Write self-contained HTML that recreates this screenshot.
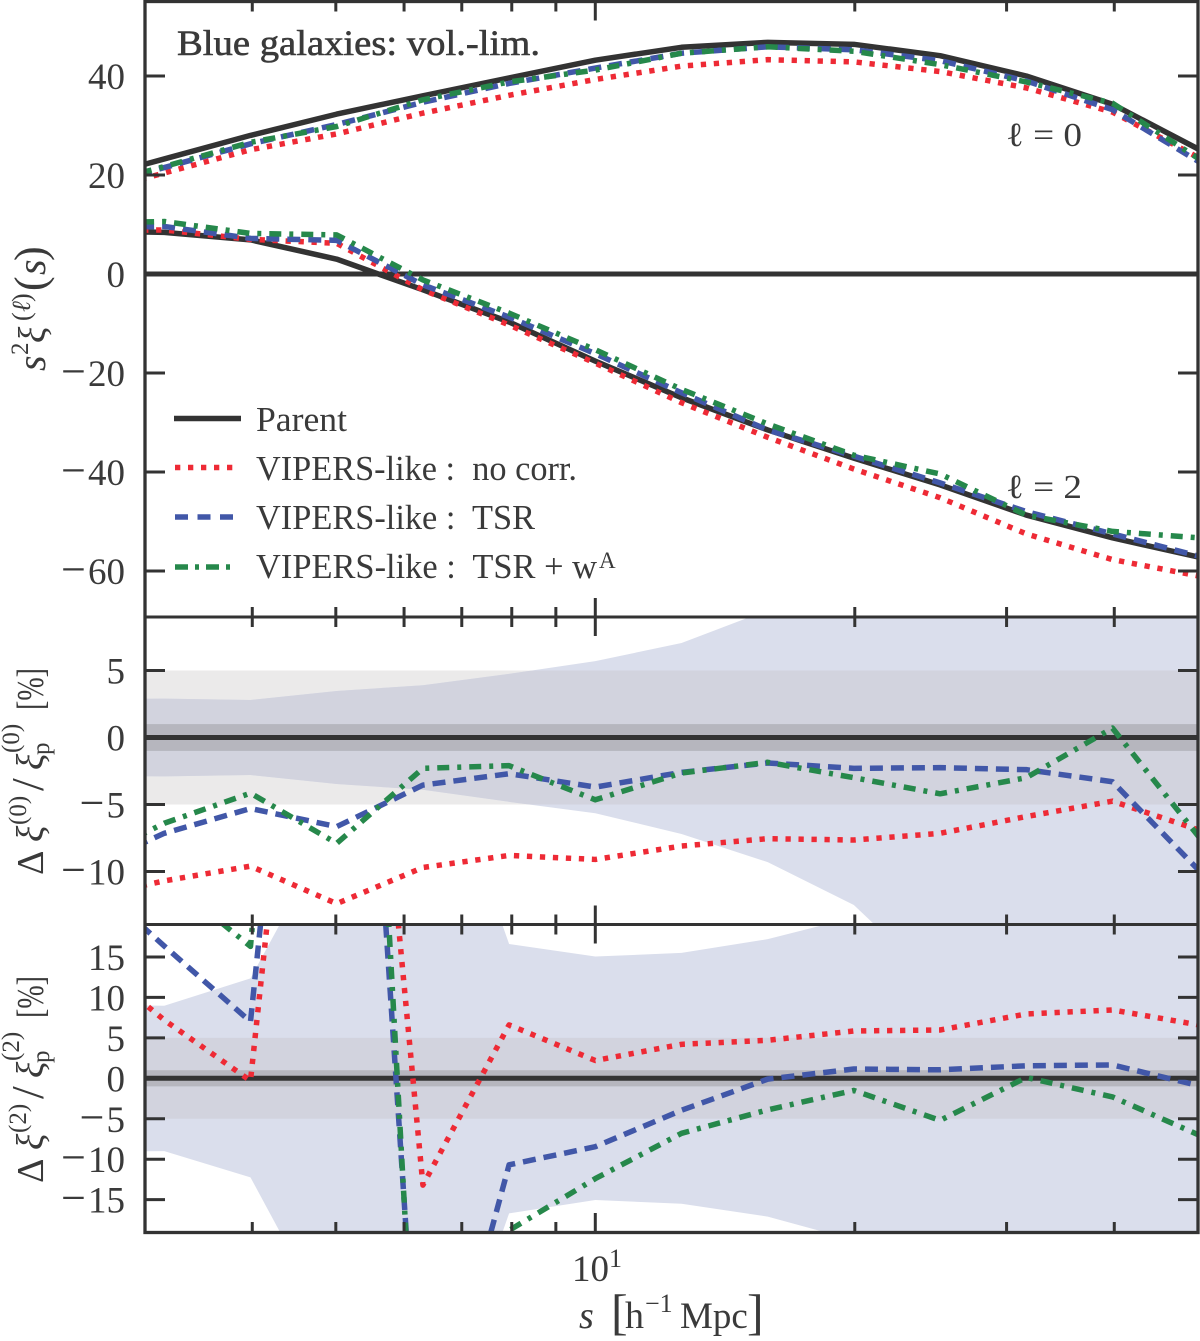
<!DOCTYPE html>
<html><head><meta charset="utf-8"><title>Blue galaxies</title>
<style>
html,body{margin:0;padding:0;background:#fff;width:1200px;height:1341px;overflow:hidden}
svg{display:block;overflow:hidden}
text{font-family:"Liberation Serif",serif;fill:#3a3a3a}
</style></head>
<body>
<svg id="fig" xmlns="http://www.w3.org/2000/svg" width="1200" height="1341" viewBox="0 0 1200 1341">
<defs id="defs">
<clipPath id="c1"><rect x="145" y="1.5" width="1053" height="615.5"/></clipPath>
<clipPath id="c2"><rect x="145" y="617" width="1053" height="307.5"/></clipPath>
<clipPath id="c3"><rect x="145" y="924.5" width="1053" height="308"/></clipPath>
</defs>
<g id="bands"></g>
<g id="marks"></g>
<g id="axes"></g>

<text x="177" y="55" font-size="36" textLength="363" lengthAdjust="spacingAndGlyphs" stroke="#3a3a3a" stroke-width="0.6">Blue galaxies: vol.-lim.</text>
<text x="1006" y="146" font-size="34" textLength="76" lengthAdjust="spacingAndGlyphs">ℓ = 0</text>
<text x="1006" y="498" font-size="34" textLength="76" lengthAdjust="spacingAndGlyphs">ℓ = 2</text>

<g>
<line x1="174" x2="241" y1="418.5" y2="418.5" stroke="#333" stroke-width="5.5"/>
<text x="256" y="431" font-size="35" textLength="91" lengthAdjust="spacingAndGlyphs">Parent</text>
<line x1="175" x2="234" y1="467.5" y2="467.5" stroke="#ee2a35" stroke-width="5.5" stroke-dasharray="5.3 7.7"/>
<text x="256" y="480" font-size="35" textLength="321" lengthAdjust="spacingAndGlyphs" xml:space="preserve">VIPERS-like :  no corr.</text>
<line x1="175" x2="233" y1="517" y2="517" stroke="#4157a8" stroke-width="5.5" stroke-dasharray="13 9.5"/>
<text x="256" y="529" font-size="35" textLength="279" lengthAdjust="spacingAndGlyphs" xml:space="preserve">VIPERS-like :  TSR</text>
<line x1="175" x2="234" y1="567" y2="567" stroke="#26884b" stroke-width="5.5" stroke-dasharray="13 7 4 7"/>
<text x="256" y="578" font-size="35" textLength="341" lengthAdjust="spacingAndGlyphs" xml:space="preserve">VIPERS-like :  TSR + w</text>
<text x="599" y="568" font-size="23">A</text>
</g>

<g transform="translate(0,372) rotate(-90)">
<text font-size="40"><tspan x="1" y="45" font-style="italic">s</tspan><tspan x="17" y="28" font-size="25">2</tspan><tspan x="29" y="45" font-style="italic" font-size="38">ξ</tspan><tspan x="51" y="30" font-size="26">(</tspan><tspan x="60" y="30" font-size="26" font-style="italic">ℓ</tspan><tspan x="70" y="30" font-size="26">)</tspan><tspan x="81" y="45" font-size="44">(</tspan><tspan x="97" y="45" font-style="italic">s</tspan><tspan x="111" y="45" font-size="44">)</tspan></text>
</g>
<g transform="translate(0,875) rotate(-90)">
<text font-size="38"><tspan x="0" y="43">Δ</tspan><tspan x="33" y="43" font-style="italic">ξ</tspan><tspan x="50" y="26" font-size="25">(0)</tspan><tspan x="84" y="43" font-size="46">/</tspan><tspan x="105" y="43" font-style="italic">ξ</tspan><tspan x="122" y="19" font-size="25">(0)</tspan><tspan x="120" y="49" font-size="25">p</tspan></text>
<text x="165" y="43" font-size="38" textLength="42" lengthAdjust="spacingAndGlyphs">[%]</text>
</g>
<g transform="translate(0,1183) rotate(-90)">
<text font-size="38"><tspan x="0" y="43">Δ</tspan><tspan x="33" y="43" font-style="italic">ξ</tspan><tspan x="50" y="26" font-size="25">(2)</tspan><tspan x="84" y="43" font-size="46">/</tspan><tspan x="105" y="43" font-style="italic">ξ</tspan><tspan x="122" y="19" font-size="25">(2)</tspan><tspan x="120" y="49" font-size="25">p</tspan></text>
<text x="165" y="43" font-size="38" textLength="42" lengthAdjust="spacingAndGlyphs">[%]</text>
</g>

<text x="572" y="1281" font-size="37">10</text>
<text x="609" y="1267" font-size="26">1</text>
<text font-size="38"><tspan x="579" y="1328" font-style="italic">s</tspan><tspan x="611" y="1329" font-size="50">[</tspan><tspan x="625" y="1328">h</tspan><tspan x="645" y="1312" font-size="26">−1</tspan><tspan x="680" y="1328" font-size="37">Mpc</tspan><tspan x="747" y="1329" font-size="50">]</tspan></text>

<script>
// bin centres of the separation s [h^-1 Mpc]
var sBins = [2.512, 3.162, 3.981, 5.012, 6.310, 7.943, 10, 12.59, 15.85, 19.95, 25.12, 31.62, 39.81, 50.12];

// top panel: s^2 xi^(l)
var parentL0 = [18.5, 23.25, 28.0, 32.3, 36.0, 39.6, 43.2, 45.8, 46.8, 46.4, 44.1, 40.0, 34.3, 25.2];
var noCorrL0 = [15.8, 20.4, 25.1, 28.3, 32.5, 36.1, 39.3, 42.0, 43.3, 42.85, 40.9, 37.6, 32.7, 23.5];
var tsrL0 = [16.7, 21.5, 26.3, 30.2, 34.7, 38.5, 41.6, 44.6, 45.9, 45.3, 43.1, 39.0, 33.2, 22.7];
var tsrWaL0 = [17.0, 21.7, 26.6, 29.8, 35.2, 38.8, 41.2, 44.6, 45.9, 45.0, 42.3, 38.8, 34.5, 23.3];
var parentL2 = [8.8, 8.4, 6.9, 3.0, -3.2, -9.7, -17.6, -25, -31.5, -37.2, -42.6, -48.7, -53.3, -57.2];
var noCorrL2 = [8.7, 8.9, 7.0, 6.2, -3.2, -10.3, -18, -26, -33, -39.4, -45.2, -52.5, -57.7, -61];
var tsrL2 = [9.4, 9.6, 7.2, 6.8, -2.2, -8.7, -16.1, -24, -31.5, -36.8, -42.2, -48, -52.5, -57];
var tsrWaL2 = [10.3, 10.6, 8.2, 7.9, -1.2, -7.9, -15.3, -23.3, -30.3, -36.6, -40.4, -48.7, -52, -53.3];

// middle panel: monopole deviation [%]
var noCorrD0 = [-12.1, -10.7, -9.6, -12.4, -9.7, -8.8, -9.1, -8.1, -7.55, -7.65, -7.15, -5.9, -4.75, -6.9];
var tsrD0 = [-10.1, -7.15, -5.3, -6.65, -3.55, -2.7, -3.7, -2.6, -1.9, -2.3, -2.25, -2.4, -3.3, -9.9];
var tsrWaD0 = [-9.6, -6.4, -4.15, -7.9, -2.3, -2.1, -4.65, -2.65, -1.85, -3.0, -4.2, -3.0, 0.7, -7.4];
var bandUpD0 = [2.85, 2.9, 2.8, 3.47, 3.9, 4.75, 5.7, 7.05, 9.5, 12, 14, 16, 18, 20];
var bandLowD0 = [-2.85, -2.9, -2.8, -3.47, -3.9, -4.8, -5.65, -7.2, -9.3, -12.5, -18.6, -25, -30, -35];

// bottom panel: quadrupole deviation [%]
var noCorrD2 = [16, 7.2, -0.3, 100, -13.2, 6.6, 2.2, 4.2, 4.7, 5.85, 5.97, 7.95, 8.45, 6.6];
var tsrD2 = [25.9, 16.35, 7.0, 110, -50, -10.7, -8.45, -3.95, -0.1, 1.15, 1.05, 1.55, 1.65, -0.9];
var tsrWaD2 = [35, 25, 16.3, 135, -57, -18.8, -12.4, -6.8, -3.9, -1.5, -5.2, 0.1, -2.3, -7];
var bandUpD2 = [9.1, 8.97, 12.35, 32, 47, 16.6, 15.05, 15.5, 17.2, 19.9, 25, 30, 35, 40];
var bandLowD2 = [-9.1, -9.0, -12.25, -32, -47, -16.7, -15.05, -15.5, -17.1, -20, -25, -30, -35, -40];

// tick values
var minorXTicks = [4, 5, 6, 7, 8, 9, 20, 30, 40];
var majorXTicks = [10];
var yTicksTop = [40, 20, 0, -20, -40, -60];
var yTicksMiddle = [5, 0, -5, -10];
var yTicksBottom = [15, 10, 5, 0, -5, -10, -15];

var NS = 'http://www.w3.org/2000/svg';
var COLORS = {ink: '#333333', red: '#ee2a35', blue: '#4157a8', green: '#26884b', black: '#333333'};
var DASH = {solid: '', red: '5.3 7.7', blue: '13 8', green: '12 8 4 8'};
var LINE_W = 5.5;

function xScale(s) { return 595.3 + 862 * Math.log10(s / 10); }
function yTop(v) { return 274 - 4.95 * v; }
function yMiddle(v) { return 737.5 - 13.4 * v; }
function yBottom(v) { return 1078.3 - 8.09 * v; }

function shape(parent, tag, attrs) {
  var el = document.createElementNS(NS, tag);
  for (var k in attrs) { el.setAttribute(k, attrs[k]); }
  parent.appendChild(el);
  return el;
}
function pathFrom(values, yFn) {
  return values.map(function (v, i) {
    return (i ? 'L' : 'M') + xScale(sBins[i]).toFixed(2) + ' ' + yFn(v).toFixed(2);
  }).join(' ');
}
function seriesLine(values, yFn, clip, color, dash, width) {
  var g = document.getElementById('marks');
  return shape(g, 'path', {
    d: pathFrom(values, yFn),
    fill: 'none',
    stroke: color,
    'stroke-width': width,
    'stroke-dasharray': dash,
    'stroke-linejoin': 'round',
    'clip-path': 'url(#' + clip + ')'
  });
}
function bandPath(up, low, yFn) {
  var d = pathFrom(up, yFn);
  for (var i = low.length - 1; i >= 0; i--) {
    d += ' L' + xScale(sBins[i]).toFixed(2) + ' ' + yFn(low[i]).toFixed(2);
  }
  return d + ' Z';
}

/* shaded regions */
var bandsG = document.getElementById('bands');
var defsEl = document.getElementById('defs');

var wrapA = shape(bandsG, 'g', {'clip-path': 'url(#c2)'});
var grayA = shape(wrapA, 'rect', {x: 145, width: 1053, y: yMiddle(5), height: yMiddle(-5) - yMiddle(5), fill: '#ebeaea'});


var bandA = shape(wrapA, 'path', {d: bandPath(bandUpD0, bandLowD0, yMiddle), fill: '#dadeec'});


var clipA = shape(defsEl, 'clipPath', {id: 'bandClipA'});
shape(clipA, 'path', {d: bandPath(bandUpD0, bandLowD0, yMiddle)});
var overA = shape(wrapA, 'rect', {x: 145, width: 1053, y: yMiddle(5), height: yMiddle(-5) - yMiddle(5), fill: '#d2d3de', 'clip-path': 'url(#bandClipA)'});


var oneA = shape(wrapA, 'rect', {x: 145, width: 1053, y: yMiddle(1), height: yMiddle(-1) - yMiddle(1), fill: '#b6b6be'});



var wrapB = shape(bandsG, 'g', {'clip-path': 'url(#c3)'});
var grayB = shape(wrapB, 'rect', {x: 145, width: 1053, y: yBottom(5), height: yBottom(-5) - yBottom(5), fill: '#ebeaea'});


var bandB = shape(wrapB, 'path', {d: bandPath(bandUpD2, bandLowD2, yBottom), fill: '#dadeec'});


var clipB = shape(defsEl, 'clipPath', {id: 'bandClipB'});
shape(clipB, 'path', {d: bandPath(bandUpD2, bandLowD2, yBottom)});
var overB = shape(wrapB, 'rect', {x: 145, width: 1053, y: yBottom(5), height: yBottom(-5) - yBottom(5), fill: '#d2d3de', 'clip-path': 'url(#bandClipB)'});


var oneB = shape(wrapB, 'rect', {x: 145, width: 1053, y: yBottom(1), height: yBottom(-1) - yBottom(1), fill: '#b6b6be'});



/* zero lines */
var axesG = document.getElementById('axes');
var marksG = document.getElementById('marks');
var zero1 = shape(marksG, 'line', {x1: 145, x2: 1198, y1: yTop(0), y2: yTop(0), stroke: COLORS.ink, 'stroke-width': 5});


var zero2 = shape(marksG, 'line', {x1: 145, x2: 1198, y1: yMiddle(0), y2: yMiddle(0), stroke: COLORS.ink, 'stroke-width': 5});


var zero3 = shape(marksG, 'line', {x1: 145, x2: 1198, y1: yBottom(0), y2: yBottom(0), stroke: COLORS.ink, 'stroke-width': 5});



/* series */
var l1 = seriesLine(parentL0, yTop, 'c1', COLORS.black, DASH.solid, 5.5);


var l2 = seriesLine(parentL2, yTop, 'c1', COLORS.black, DASH.solid, 5.5);


var l3 = seriesLine(noCorrL0, yTop, 'c1', COLORS.red, DASH.red, LINE_W);


var l4 = seriesLine(noCorrL2, yTop, 'c1', COLORS.red, DASH.red, LINE_W);


var l5 = seriesLine(tsrL0, yTop, 'c1', COLORS.blue, DASH.blue, LINE_W);


var l6 = seriesLine(tsrL2, yTop, 'c1', COLORS.blue, DASH.blue, LINE_W);


var l7 = seriesLine(tsrWaL0, yTop, 'c1', COLORS.green, DASH.green, LINE_W);


var l8 = seriesLine(tsrWaL2, yTop, 'c1', COLORS.green, DASH.green, LINE_W);


var m1 = seriesLine(noCorrD0, yMiddle, 'c2', COLORS.red, DASH.red, LINE_W);


var m2 = seriesLine(tsrD0, yMiddle, 'c2', COLORS.blue, DASH.blue, LINE_W);


var m3 = seriesLine(tsrWaD0, yMiddle, 'c2', COLORS.green, DASH.green, LINE_W);


var b1 = seriesLine(noCorrD2, yBottom, 'c3', COLORS.red, DASH.red, LINE_W);


var b2 = seriesLine(tsrD2, yBottom, 'c3', COLORS.blue, DASH.blue, LINE_W);


var b3 = seriesLine(tsrWaD2, yBottom, 'c3', COLORS.green, DASH.green, LINE_W);



/* axes */
function drawYTicks(ticks, yFn) {
  ticks.forEach(function (t) {
    var y = yFn(t);
    var left = shape(axesG, 'line', {x1: 145, x2: 165, y1: y, y2: y, stroke: COLORS.ink, 'stroke-width': 3});
    
    
    var right = shape(axesG, 'line', {x1: 1178, x2: 1198, y1: y, y2: y, stroke: COLORS.ink, 'stroke-width': 3});
    
    
    var lab = shape(axesG, 'text', {x: 125, y: y + 13, 'text-anchor': 'end', 'font-size': 37});
    
    
    if (t < 0) {
      var minus = shape(lab, 'tspan', {'font-size': 44});
      minus.textContent = '\u2212';
      var digits = shape(lab, 'tspan', {dx: 2});
      digits.textContent = String(Math.abs(t));
    } else {
      lab.textContent = String(t);
    }
  });
}
function drawXTicks(ticks, yLevels, halfLen) {
  ticks.forEach(function (s) {
    var x = xScale(s);
    yLevels.forEach(function (y) {
      var tick = shape(axesG, 'line', {
        x1: x, x2: x,
        y1: Math.max(y - halfLen, 0), y2: y + halfLen,
        stroke: COLORS.ink, 'stroke-width': 3
      });
      
      
    });
  });
}
drawYTicks(yTicksTop, yTop);
drawYTicks(yTicksMiddle, yMiddle);
drawYTicks(yTicksBottom, yBottom);
drawXTicks(minorXTicks, [1.5, 617, 924.5], 10);
drawXTicks(majorXTicks, [1.5, 617, 924.5], 19);
minorXTicks.forEach(function (s) {
  var tick = shape(axesG, 'line', {x1: xScale(s), x2: xScale(s), y1: 1222, y2: 1232, stroke: COLORS.ink, 'stroke-width': 3});
  
  
});
majorXTicks.forEach(function (s) {
  var tick = shape(axesG, 'line', {x1: xScale(s), x2: xScale(s), y1: 1213, y2: 1232, stroke: COLORS.ink, 'stroke-width': 3});
  
  
});
var frame = shape(axesG, 'rect', {x: 145, y: 1.5, width: 1053, height: 1231, fill: 'none', stroke: COLORS.ink, 'stroke-width': 3.3});


var div1 = shape(axesG, 'line', {x1: 145, x2: 1198, y1: 617, y2: 617, stroke: COLORS.ink, 'stroke-width': 3});


var div2 = shape(axesG, 'line', {x1: 145, x2: 1198, y1: 924.5, y2: 924.5, stroke: COLORS.ink, 'stroke-width': 3});


</script>
</svg>
</body></html>
